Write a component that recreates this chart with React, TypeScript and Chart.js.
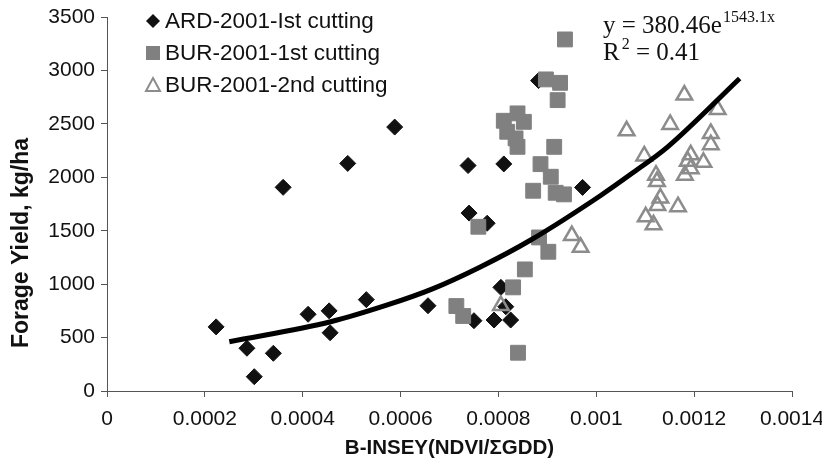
import React, { useEffect, useRef } from 'react';
import { Chart, registerables } from 'chart.js';

Chart.register(...registerables);

const seriesNames = ['ARD-2001-Ist cutting', 'BUR-2001-1st cutting', 'BUR-2001-2nd cutting'];
const xTitle = 'B-INSEY(NDVI/ΣGDD)';
const yTitle = 'Forage Yield, kg/ha';
const eqMain = 'y = 380.46e';
const eqExp = '1543.1x';
const r2Label = 'R';
const r2Rest = ' = 0.41';

const xMin = 0;
const xMax = 0.0014;
const xStep = 0.0002;
const yMin = 0;
const yMax = 3500;
const yStep = 500;

const ardX = [0.000223, 0.000286, 0.000301, 0.00034, 0.00036, 0.000411, 0.000454, 0.000456, 0.000492, 0.00053, 0.000588, 0.000656, 0.000738, 0.00074, 0.00075, 0.000777, 0.000791, 0.000805, 0.000811, 0.000815, 0.000825, 0.000882, 0.000972];
const ardY = [600, 400, 134, 353, 1906, 718, 750, 545, 2130, 855, 2470, 798, 2110, 1665, 658, 1570, 664, 970, 2125, 789, 664, 2905, 1905];

const bur1X = [0.000936, 0.000897, 0.000926, 0.000921, 0.000839, 0.000811, 0.000852, 0.000818, 0.000835, 0.000839, 0.000914, 0.000886, 0.000907, 0.000871, 0.000917, 0.000934, 0.000759, 0.000883, 0.000902, 0.000854, 0.00083, 0.000714, 0.000728, 0.00084];
const bur1Y = [3290, 2916, 2884, 2722, 2598, 2529, 2519, 2426, 2364, 2285, 2285, 2123, 2005, 1874, 1855, 1840, 1537, 1437, 1303, 1138, 970, 795, 702, 358];

const bur2X = [0.000805, 0.00095, 0.000968, 0.001062, 0.001098, 0.001122, 0.001124, 0.001131, 0.001125, 0.001101, 0.001117, 0.001151, 0.001167, 0.00118, 0.001181, 0.001187, 0.001193, 0.001193, 0.001219, 0.001234, 0.001234, 0.001248];
const bur2Y = [800, 1455, 1345, 2435, 2200, 2020, 1960, 1805, 1735, 1630, 1555, 2495, 1725, 2770, 2020, 2150, 2210, 2080, 2140, 2410, 2305, 2635];

const trendX = [0.00025, 0.000457, 0.000573, 0.000664, 0.000764, 0.000866, 0.001009, 0.001071, 0.001146, 0.001293];
const trendY = [461, 648, 805, 953, 1163, 1413, 1830, 2030, 2285, 2925];

const ardColor = '#111111';
const bur1Color = '#808080';
const bur2Color = '#8c8c8c';
const axisColor = '#555555';
const textColor = '#111111';
const sansFont = '"Liberation Sans", Arial, sans-serif';
const serifFont = '"Liberation Serif", "Times New Roman", serif';

const toPoints = (xs: number[], ys: number[]) => xs.map((x, i) => ({ x, y: ys[i] }));

const overlayPlugin = {
  id: 'overlayText',
  afterDraw(chart: any) {
    const ctx: CanvasRenderingContext2D = chart.ctx;
    ctx.save();
    // legend
    const legX = 153;
    const rows = [21, 53, 85];
    ctx.font = `22.5px ${sansFont}`;
    ctx.fillStyle = textColor;
    ctx.textBaseline = 'middle';
    ctx.textAlign = 'left';
    rows.forEach((ry, i) => {
      ctx.fillStyle = textColor;
      ctx.fillText(seriesNames[i], legX + 12, ry + 1);
    });
    // diamond
    ctx.fillStyle = ardColor;
    ctx.beginPath();
    ctx.moveTo(legX, rows[0] - 7);
    ctx.lineTo(legX + 7, rows[0]);
    ctx.lineTo(legX, rows[0] + 7);
    ctx.lineTo(legX - 7, rows[0]);
    ctx.closePath();
    ctx.fill();
    // square
    ctx.fillStyle = bur1Color;
    ctx.fillRect(legX - 7, rows[1] - 7, 14, 14);
    // triangle
    ctx.strokeStyle = bur2Color;
    ctx.lineWidth = 2;
    ctx.beginPath();
    ctx.moveTo(legX, rows[2] - 7);
    ctx.lineTo(legX + 7, rows[2] + 6);
    ctx.lineTo(legX - 7, rows[2] + 6);
    ctx.closePath();
    ctx.stroke();

    // equation
    ctx.fillStyle = textColor;
    ctx.textBaseline = 'alphabetic';
    ctx.font = `25px ${serifFont}`;
    ctx.fillText(eqMain, 603, 33);
    const w1 = ctx.measureText(eqMain).width;
    ctx.font = `16px ${serifFont}`;
    ctx.fillText(eqExp, 603 + w1 + 1, 22);
    ctx.font = `25px ${serifFont}`;
    ctx.fillText(r2Label, 603, 60);
    const wR = ctx.measureText(r2Label).width;
    ctx.font = `16px ${serifFont}`;
    ctx.fillText('2', 603 + wR + 2, 49);
    const w2 = ctx.measureText('2').width;
    ctx.font = `25px ${serifFont}`;
    ctx.fillText(r2Rest, 603 + wR + 2 + w2, 60);

    // axis titles
    ctx.font = `bold 20.5px ${sansFont}`;
    ctx.textAlign = 'center';
    ctx.textBaseline = 'middle';
    const area = chart.chartArea;
    ctx.fillText(xTitle, (area.left + area.right) / 2, 448);
    ctx.translate(22, 243);
    ctx.rotate(-Math.PI / 2);
    ctx.font = `bold 23px ${sansFont}`;
    ctx.fillText(yTitle, 0, 0);
    ctx.restore();
  },
};

export default function App() {
  const canvasRef = useRef<HTMLCanvasElement | null>(null);

  useEffect(() => {
    if (!canvasRef.current) return;
    const chart = new Chart(canvasRef.current, {
      type: 'scatter',
      data: {
        datasets: [
          {
            label: 'trend',
            type: 'line',
            data: toPoints(trendX, trendY),
            borderColor: '#000000',
            borderWidth: 5,
            pointRadius: 0,
            fill: false,
            showLine: true,
            cubicInterpolationMode: 'monotone',
            order: 0,
          } as any,
          {
            label: seriesNames[2],
            data: toPoints(bur2X, bur2Y),
            pointStyle: 'triangle',
            pointRadius: 9,
            backgroundColor: 'rgba(0,0,0,0)',
            borderColor: bur2Color,
            borderWidth: 2.5,
            order: 1,
          },
          {
            label: seriesNames[1],
            data: toPoints(bur1X, bur1Y),
            pointStyle: 'rect',
            pointRadius: 10.5,
            backgroundColor: bur1Color,
            borderColor: bur1Color,
            borderWidth: 1,
            order: 2,
          },
          {
            label: seriesNames[0],
            data: toPoints(ardX, ardY),
            pointStyle: 'rectRot',
            pointRadius: 8,
            backgroundColor: ardColor,
            borderColor: ardColor,
            borderWidth: 1,
            order: 3,
          },
        ],
      },
      options: {
        animation: false,
        responsive: false,
        devicePixelRatio: 1,
        layout: { padding: { top: 17, right: 30, left: 0, bottom: 0 } },
        plugins: {
          legend: { display: false },
          tooltip: { enabled: false },
          title: { display: false },
        },
        scales: {
          x: {
            type: 'linear',
            min: xMin,
            max: xMax,
            afterFit: (s: any) => { s.height = 79; s.paddingRight = 0; s.paddingLeft = 0; },
            ticks: {
              stepSize: xStep,
              color: textColor,
              font: { family: sansFont, size: 21 },
              padding: 10,
              callback: (v: any) => String(Number(Number(v).toFixed(4))),
            },
            grid: { drawOnChartArea: false, drawTicks: true, tickLength: 6, color: axisColor },
            border: { display: true, color: axisColor, width: 1 },
          },
          y: {
            type: 'linear',
            min: yMin,
            max: yMax,
            afterFit: (s: any) => { s.width = 107; s.paddingTop = 0; s.paddingBottom = 0; },
            ticks: {
              stepSize: yStep,
              color: textColor,
              font: { family: sansFont, size: 21 },
              padding: 6,
              callback: (v: any) => String(v),
            },
            grid: { drawOnChartArea: false, drawTicks: true, tickLength: 6, color: axisColor },
            border: { display: true, color: axisColor, width: 1 },
          },
        },
      },
      plugins: [overlayPlugin],
    });
    return () => chart.destroy();
  }, []);

  return (
    <div style={{ position: 'absolute', left: 0, top: 0, width: 822, height: 470, background: '#fff' }}>
      <canvas ref={canvasRef} width={822} height={470} style={{ display: 'block' }} />
    </div>
  );
}
